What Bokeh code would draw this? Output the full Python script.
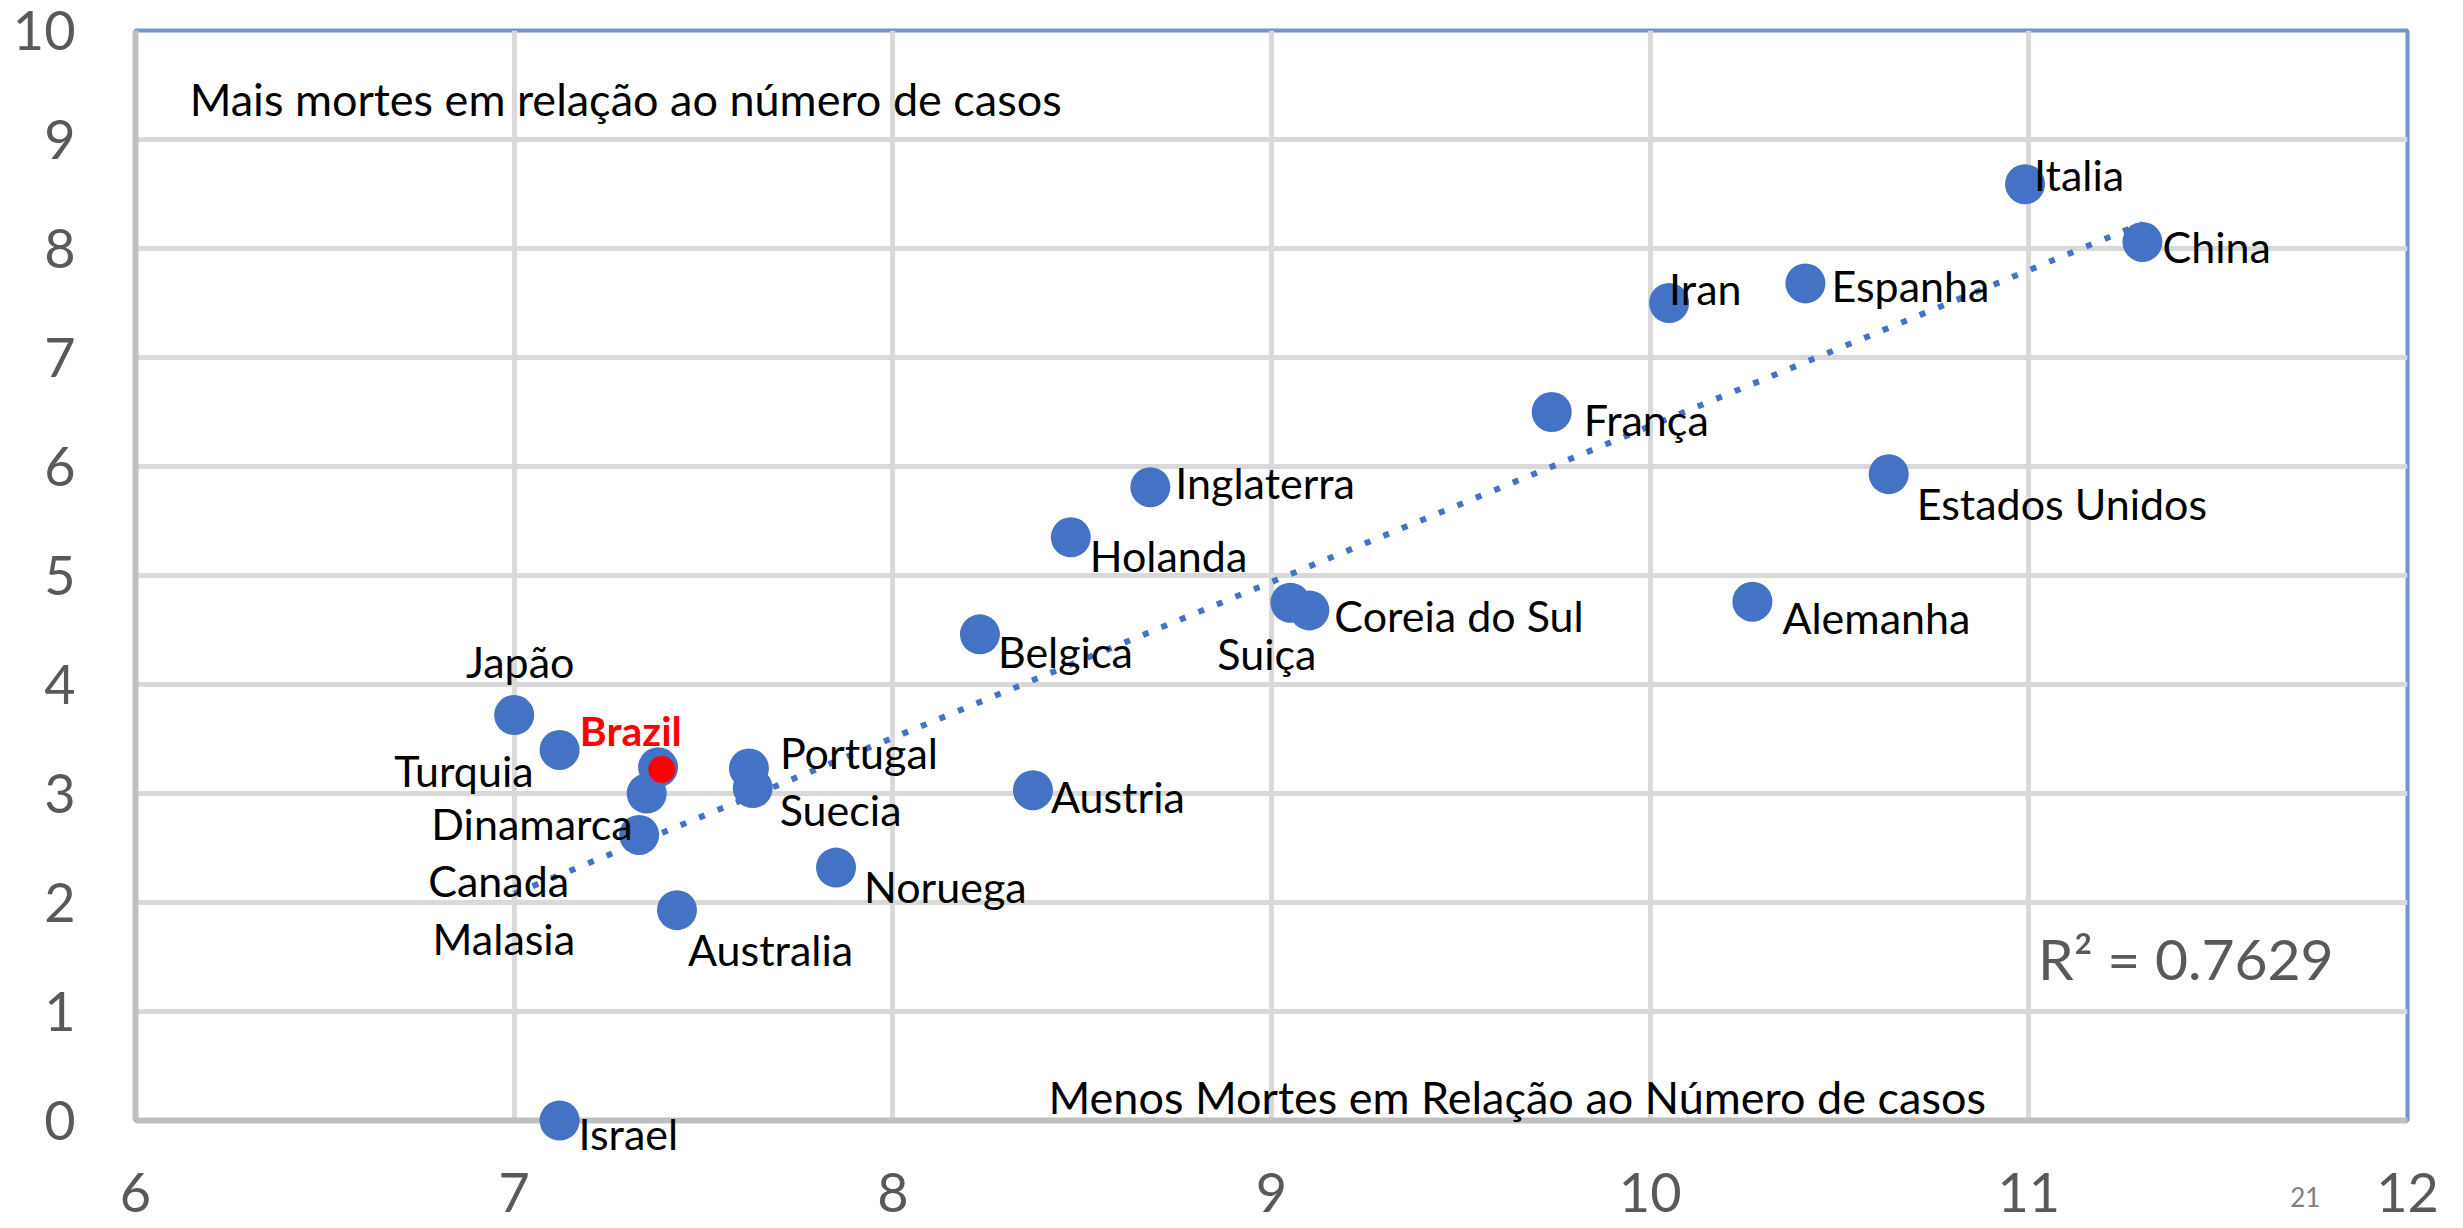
from bokeh.plotting import figure
from bokeh.models import Range1d, FixedTicker, ColumnDataSource
from bokeh.core.properties import value
from bokeh.embed import file_html
from bokeh.resources import INLINE

# ---------------- data ----------------
countries = ["Italia", "China", "Iran", "Espanha", "França", "Estados Unidos",
             "Alemanha", "Inglaterra", "Holanda", "Suiça", "Coreia do Sul",
             "Belgica", "Austria", "Noruega", "Portugal", "Suecia", "Japão",
             "Turquia", "Dinamarca", "Canada", "Malasia", "Australia", "Israel"]
x_vals = [10.99, 11.30, 10.05, 10.41, 9.74, 10.63,
          10.27, 8.68, 8.47, 9.05, 9.10,
          8.23, 8.37, 7.85, 7.62, 7.63, 7.00,
          7.12, 7.35, 7.33, 7.38, 7.43, 7.12]
y_vals = [8.59, 8.06, 7.50, 7.68, 6.50, 5.93,
          4.76, 5.81, 5.35, 4.75, 4.68,
          4.46, 3.03, 2.32, 3.23, 3.05, 3.72,
          3.40, 3.00, 2.62, 3.24, 1.93, 0.00]

brazil_name = ["Brazil"]
brazil_x = [7.39]
brazil_y = [3.22]

# trendline end points
trend_x = [7.00, 11.30]
trend_y = [2.08, 8.23]
r2_text = "R² = 0.7629"
note_top = "Mais mortes em relação ao número de casos"
note_bottom = "Menos Mortes em Relação ao Número de casos"
page_number = "21"

x_ticks = [6, 7, 8, 9, 10, 11, 12]
y_ticks = [0, 1, 2, 3, 4, 5, 6, 7, 8, 9, 10]

# ---------------- label layout (pixels from the point, screen-down) ----------------
label_dx = [9, 20, 0, 26, 32, 28,
            30, 25, 19, 26, 25,
            18, 18, 28, 31, 27, 6,
            -26, -14, -70, -83, 11, 19]
label_dy = [-10, 5, -15, 2, 7, 29,
            16, -5, 18, 51, 5,
            17, 6, 19, -16, 21, -54,
            21, 30, 46, 171, 39, 13]
label_align = ["left", "left", "left", "left", "left", "left",
               "left", "left", "left", "right", "left",
               "left", "left", "left", "left", "left", "center",
               "right", "right", "right", "right", "left", "left"]

BLUE = "#4472C4"
FONT = "Lato"

p = figure(width=2463, height=1228, output_backend="svg", toolbar_location=None,
           x_range=Range1d(6, 12), y_range=Range1d(0, 10),
           min_border_left=135, min_border_right=56, min_border_top=30,
           min_border_bottom=108,
           background_fill_color="white", border_fill_color="white",
           outline_line_color="#7294cf", outline_line_width=4)

p.xaxis.ticker = FixedTicker(ticks=x_ticks)
p.yaxis.ticker = FixedTicker(ticks=y_ticks)
for ax in (p.xaxis, p.yaxis):
    ax.major_tick_line_color = None
    ax.minor_tick_line_color = None
    ax.major_tick_out = 0
    ax.major_tick_in = 0
    ax.minor_tick_out = 0
    ax.minor_tick_in = 0
    ax.axis_line_color = "#bfbfbf"
    ax.axis_line_width = 6
    ax.major_label_text_font = FONT
    ax.major_label_text_font_size = "54px"
    ax.major_label_text_color = "#595959"
p.yaxis.major_label_standoff = 60
p.xaxis.major_label_standoff = 52

p.xgrid.grid_line_color = "#d9d9d9"
p.ygrid.grid_line_color = "#d9d9d9"
p.xgrid.grid_line_width = 5
p.ygrid.grid_line_width = 5

# trendline
p.line(trend_x, trend_y, line_color=BLUE, line_width=6, line_dash="6 14")

# points (overlay level so that the point on the axis is not cut)
p.scatter(x_vals, y_vals, size=40, fill_color=BLUE, line_color=BLUE,
          line_width=0, level="overlay")
p.scatter(brazil_x, brazil_y, size=27, fill_color="#ff0000", line_color="#ff0000",
          line_width=0, level="overlay")

# country labels grouped by alignment
for align in ("left", "right", "center"):
    idx = [i for i, a in enumerate(label_align) if a == align]
    src = ColumnDataSource(dict(
        x=[x_vals[i] for i in idx], y=[y_vals[i] for i in idx],
        name=[countries[i] for i in idx],
        dx=[label_dx[i] for i in idx], dy=[label_dy[i] for i in idx]))
    p.text(x="x", y="y", text="name", source=src, x_offset="dx", y_offset="dy",
           text_align=align, text_baseline="middle",
           text_font=value(FONT), text_font_size="43px", text_color="black",
           level="overlay")

bsrc = ColumnDataSource(dict(x=brazil_x, y=brazil_y, name=brazil_name))
p.text(x="x", y="y", text="name", source=bsrc, x_offset=-82, y_offset=-39,
       text_align="left", text_baseline="middle",
       text_font=value(FONT), text_font_size="41px", text_font_style="bold",
       text_color="#ff0000", level="overlay")

# annotations
p.text(x=[6.143], y=[9.372], text=[note_top], text_align="left",
       text_baseline="middle", text_font=value(FONT), text_font_size="45px",
       text_color="black", level="overlay")
p.text(x=[8.411], y=[0.22], text=[note_bottom], text_align="left",
       text_baseline="middle", text_font=value(FONT), text_font_size="45px",
       text_color="black", level="overlay")
p.text(x=[11.024], y=[1.495], text=[r2_text], text_align="left",
       text_baseline="middle", text_font=value(FONT), text_font_size="57px",
       text_color="#595959", level="overlay")
p.text(x=[11.73], y=[-0.70], text=[page_number], text_align="center",
       text_baseline="middle", text_font=value(FONT), text_font_size="26px",
       text_color="#7f7f7f", level="overlay")

open("out.html", "w").write(file_html(p, INLINE))
